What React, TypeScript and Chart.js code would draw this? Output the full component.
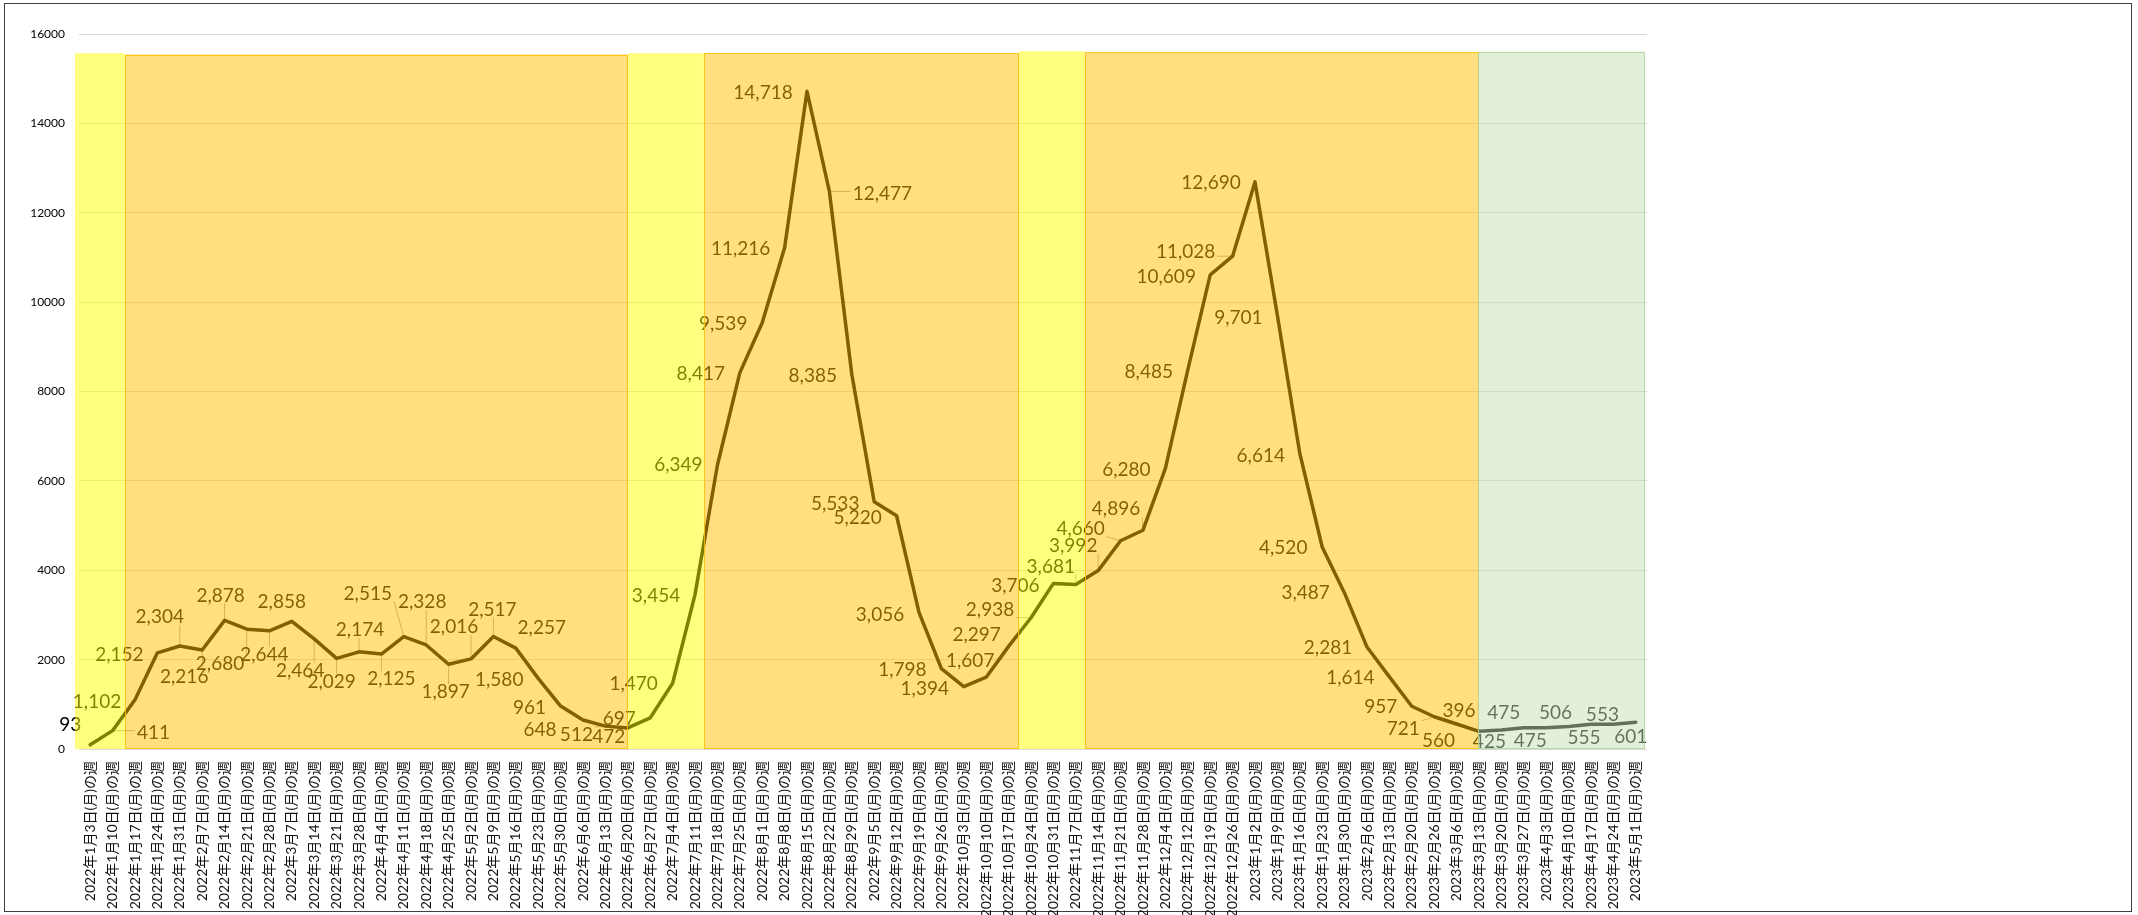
import React, { useEffect, useRef } from 'react';
import { Chart, registerables } from 'chart.js';

Chart.register(...registerables);

const WEEKS = [
  '2022年1月3日(月)の週', '2022年1月10日(月)の週', '2022年1月17日(月)の週', '2022年1月24日(月)の週', '2022年1月31日(月)の週',
  '2022年2月7日(月)の週', '2022年2月14日(月)の週', '2022年2月21日(月)の週', '2022年2月28日(月)の週',
  '2022年3月7日(月)の週', '2022年3月14日(月)の週', '2022年3月21日(月)の週', '2022年3月28日(月)の週',
  '2022年4月4日(月)の週', '2022年4月11日(月)の週', '2022年4月18日(月)の週', '2022年4月25日(月)の週',
  '2022年5月2日(月)の週', '2022年5月9日(月)の週', '2022年5月16日(月)の週', '2022年5月23日(月)の週', '2022年5月30日(月)の週',
  '2022年6月6日(月)の週', '2022年6月13日(月)の週', '2022年6月20日(月)の週', '2022年6月27日(月)の週',
  '2022年7月4日(月)の週', '2022年7月11日(月)の週', '2022年7月18日(月)の週', '2022年7月25日(月)の週',
  '2022年8月1日(月)の週', '2022年8月8日(月)の週', '2022年8月15日(月)の週', '2022年8月22日(月)の週', '2022年8月29日(月)の週',
  '2022年9月5日(月)の週', '2022年9月12日(月)の週', '2022年9月19日(月)の週', '2022年9月26日(月)の週',
  '2022年10月3日(月)の週', '2022年10月10日(月)の週', '2022年10月17日(月)の週', '2022年10月24日(月)の週', '2022年10月31日(月)の週',
  '2022年11月7日(月)の週', '2022年11月14日(月)の週', '2022年11月21日(月)の週', '2022年11月28日(月)の週',
  '2022年12月4日(月)の週', '2022年12月12日(月)の週', '2022年12月19日(月)の週', '2022年12月26日(月)の週',
  '2023年1月2日(月)の週', '2023年1月9日(月)の週', '2023年1月16日(月)の週', '2023年1月23日(月)の週', '2023年1月30日(月)の週',
  '2023年2月6日(月)の週', '2023年2月13日(月)の週', '2023年2月20日(月)の週', '2023年2月26日(月)の週',
  '2023年3月6日(月)の週', '2023年3月13日(月)の週', '2023年3月20日(月)の週', '2023年3月27日(月)の週',
  '2023年4月3日(月)の週', '2023年4月10日(月)の週', '2023年4月17日(月)の週', '2023年4月24日(月)の週',
  '2023年5月1日(月)の週',
];

const CASES = [
  93, 411, 1102, 2152, 2304, 2216, 2878, 2680, 2644, 2858,
  2464, 2029, 2174, 2125, 2515, 2328, 1897, 2016, 2517, 2257,
  1580, 961, 648, 512, 472, 697, 1470, 3454, 6349, 8417,
  9539, 11216, 14718, 12477, 8385, 5533, 5220, 3056, 1798, 1394,
  1607, 2297, 2938, 3706, 3681, 3992, 4660, 4896, 6280, 8485,
  10609, 11028, 12690, 9701, 6614, 4520, 3487, 2281, 1614, 957,
  721, 560, 396, 425, 475, 475, 506, 555, 553, 601,
];

const Y_TICKS = [0, 2000, 4000, 6000, 8000, 10000, 12000, 14000, 16000];

// Shaded periods, in week-index units of the category axis
const BAND_START = [-0.68, 1.55, 24.02, 27.4, 41.47, 44.39, 61.96];
const BAND_END = [1.55, 24.02, 27.4, 41.47, 44.39, 61.96, 69.41];
const BAND_TOP = [15570, 15540, 15570, 15575, 15615, 15590, 15605];
const BAND_KIND = ['yellow', 'orange', 'yellow', 'orange', 'yellow', 'orange', 'green'];

// Label placement (pixel offsets of label centre from its point)
const LABEL_DX = [
  -20, 41, -38, -38, -20, -18, -4, -27, -5, -10,
  -14, -5, 1, 10, -36, -4, -3, -17, -1, 26,
  -39, -31, -43, -29, -19, -31, -39, -39, -39, -39,
  -39, -44, -44, 53, -39, -39, -39, -39, -39, -39,
  -16, -32, -41, -38, -25, -25, -40, -27, -39, -39,
  -44, -47, -44, -39, -39, -39, -39, -39, -39, -31,
  -31, -18, -20, -12, -20, -16, -13, -7, -11, -5,
];
const LABEL_DY = [
  -20, 2, 2, 2, -29, 27, -25, 35, 24, -19,
  32, 24, -22, 25, -43, -43, 28, -32, -27, -20,
  1, 2, 10, 9, 9, 1, 1, 1, 0, 1,
  1, 1, 2, 2, 2, 2, 2, 2, 1, 2,
  -16, -11, -8, 2, -18, -25, -12, -21, 2, 2,
  2, -4, 1, 2, 2, 1, 0, 1, 1, 1,
  12, 17, -20, 12, -15, 13, -14, 14, -9, 15,
];
const LEADER = [
  0, 1, 0, 0, 1, 1, 1, 1, 1, 0,
  1, 1, 1, 1, 1, 1, 1, 1, 1, 0,
  0, 0, 0, 1, 1, 0, 0, 0, 0, 0,
  0, 0, 0, 1, 0, 0, 0, 0, 0, 0,
  0, 0, 1, 0, 1, 1, 1, 1, 0, 0,
  0, 1, 0, 0, 0, 0, 0, 0, 0, 0,
  1, 0, 0, 0, 0, 0, 0, 0, 0, 0,
];

const BAND_FILL: Record<string, string> = {
  yellow: 'rgba(255,255,0,0.5)',
  orange: 'rgba(255,192,0,0.5)',
  green: 'rgba(198,224,180,0.5)',
};
const BAND_STROKE: Record<string, string | null> = {
  yellow: null,
  orange: 'rgba(255,192,0,0.85)',
  green: 'rgba(169,208,142,0.7)',
};

const fmt = (v: number) => v.toLocaleString('en-US');

const overlayPlugin = {
  id: 'overlay',
  beforeDraw(chart: any) {
    const { ctx, width, height } = chart;
    ctx.save();
    ctx.fillStyle = '#ffffff';
    ctx.fillRect(0, 0, width, height);
    ctx.strokeStyle = '#404040';
    ctx.lineWidth = 1;
    ctx.strokeRect(4.5, 3.5, 2127, 908);
    ctx.restore();
  },
  afterDatasetsDraw(chart: any) {
    const ctx = chart.ctx;
    const xs = chart.scales.x;
    const ys = chart.scales.y;
    const meta = chart.getDatasetMeta(0);
    ctx.save();
    ctx.font = '19px Lato';
    ctx.textAlign = 'center';
    ctx.textBaseline = 'middle';
    meta.data.forEach((pt: any, i: number) => {
      const text = fmt(CASES[i]);
      const cx = pt.x + LABEL_DX[i];
      const cy = pt.y + LABEL_DY[i];
      if (LEADER[i]) {
        const w = ctx.measureText(text).width;
        const h = 14;
        const lx = Math.min(Math.max(pt.x, cx - w / 2 - 2), cx + w / 2 + 2);
        const ly = Math.min(Math.max(pt.y, cy - h / 2 - 1), cy + h / 2 + 1);
        ctx.strokeStyle = 'rgba(0,0,0,0.35)';
        ctx.lineWidth = 1;
        ctx.beginPath();
        ctx.moveTo(lx, ly);
        ctx.lineTo(pt.x, pt.y);
        ctx.stroke();
      }
      ctx.fillStyle = '#000000';
      ctx.fillText(text, cx, cy);
    });
    // semi-transparent period bands drawn over the line and labels
    BAND_START.forEach((s, k) => {
      const kind = BAND_KIND[k];
      const x0 = xs.getPixelForValue(s);
      const x1 = xs.getPixelForValue(BAND_END[k]);
      const y0 = ys.getPixelForValue(BAND_TOP[k]);
      const y1 = ys.getPixelForValue(0);
      ctx.fillStyle = BAND_FILL[kind];
      ctx.fillRect(x0, y0, x1 - x0, y1 - y0);
      const st = BAND_STROKE[kind];
      if (st) {
        ctx.strokeStyle = st;
        ctx.lineWidth = 1;
        ctx.strokeRect(Math.round(x0) + 0.5, Math.round(y0) + 0.5, Math.round(x1 - x0) - 1, Math.round(y1 - y0) - 1);
      }
    });
    ctx.restore();
  },
};

export default function App() {
  const ref = useRef<HTMLCanvasElement | null>(null);
  useEffect(() => {
    document.body.style.margin = '0';
    const canvas = ref.current;
    if (!canvas) return;
    const chart = new Chart(canvas, {
      type: 'line',
      data: {
        labels: WEEKS,
        datasets: [
          {
            data: CASES,
            borderColor: '#000000',
            borderWidth: 3.5,
            pointRadius: 0,
            tension: 0,
            borderJoinStyle: 'round',
            borderCapStyle: 'round',
            fill: false,
          },
        ],
      },
      options: {
        responsive: false,
        animation: false,
        devicePixelRatio: 1,
        layout: { padding: { left: 0, top: 34, right: 491, bottom: 0 } },
        plugins: { legend: { display: false }, tooltip: { enabled: false } },
        scales: {
          x: {
            type: 'category',
            offset: true,
            grid: { display: false, drawTicks: false },
            border: { display: false },
            ticks: {
              autoSkip: false,
              minRotation: 90,
              maxRotation: 90,
              padding: 12,
              color: '#111111',
              font: { family: 'Lato, "Noto Sans CJK JP"', size: 14 },
            },
            afterFit: (s: any) => { s.height = 166; },
          },
          y: {
            min: 0,
            max: 16000,
            afterBuildTicks: (s: any) => { s.ticks = Y_TICKS.map((v) => ({ value: v })); },
            grid: { color: '#D9D9D9', drawTicks: false, lineWidth: 1 },
            border: { display: false },
            ticks: {
              padding: 14,
              color: '#000000',
              font: { family: 'Lato', size: 12 },
              callback: (v: any) => String(v),
            },
            afterFit: (s: any) => { s.width = 79; },
          },
        },
      },
      plugins: [overlayPlugin],
    } as any);
    return () => chart.destroy();
  }, []);
  return <canvas ref={ref} width={2138} height={915} style={{ display: 'block', width: 2138, height: 915 }} />;
}
